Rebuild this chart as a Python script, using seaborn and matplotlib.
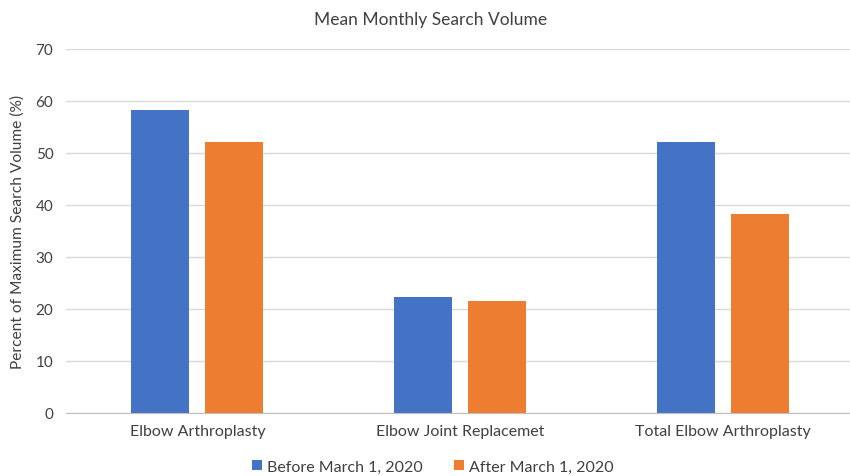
import matplotlib
matplotlib.use("Agg")
import matplotlib.pyplot as plt
import pandas as pd
import seaborn as sns

categories = ["Elbow Arthroplasty", "Elbow Joint Replacemet", "Total Elbow Arthroplasty"]
series = ["Before March 1, 2020", "After March 1, 2020"]
before_vals = [58.2, 22.2, 52.0]
after_vals = [52.0, 21.4, 38.2]
colors = ["#4472C4", "#ED7D31"]

df = pd.DataFrame({
    "category": categories * 2,
    "period": [series[0]] * 3 + [series[1]] * 3,
    "value": before_vals + after_vals,
})

sns.set_style("white")
plt.rcParams["font.family"] = ["Lato", "DejaVu Sans"]

fig = plt.figure(figsize=(8.5, 4.77), dpi=100)
ax = fig.add_axes([0.0775, 0.133, 0.928, 0.763])

sns.barplot(data=df, x="category", y="value", hue="period", order=categories,
            hue_order=series, palette=colors, width=0.563, gap=0.216,
            saturation=1, edgecolor="none", ax=ax)

ax.set_xlim(-0.5, 2.5)
ax.set_ylim(0, 70)
ax.set_yticks(range(0, 71, 10))
ax.yaxis.grid(True, color="#D9D9D9", linewidth=1)
ax.set_axisbelow(True)
for s in ["top", "right", "left"]:
    ax.spines[s].set_visible(False)
ax.spines["bottom"].set_color("#BFBFBF")
ax.tick_params(axis="y", length=0, labelsize=11, colors="#404040", pad=9)
ax.tick_params(axis="x", length=0, labelsize=11.5, colors="#404040", pad=8)
ax.set_xlabel("")
ax.set_ylabel("Percent of Maximum Search Volume (%)", fontsize=11.2, color="#404040", labelpad=8)
fig.text(0.506, 0.958, "Mean Monthly Search Volume", ha="center", va="center",
         fontsize=12.5, color="#404040")

ax.legend(loc="upper center", bbox_to_anchor=(0.465, -0.09), ncol=2, frameon=False,
          fontsize=11.5, handlelength=0.6, handleheight=0.6, handletextpad=0.3,
          columnspacing=2.0, labelcolor="#404040")

fig.savefig("out.png", dpi=100)
